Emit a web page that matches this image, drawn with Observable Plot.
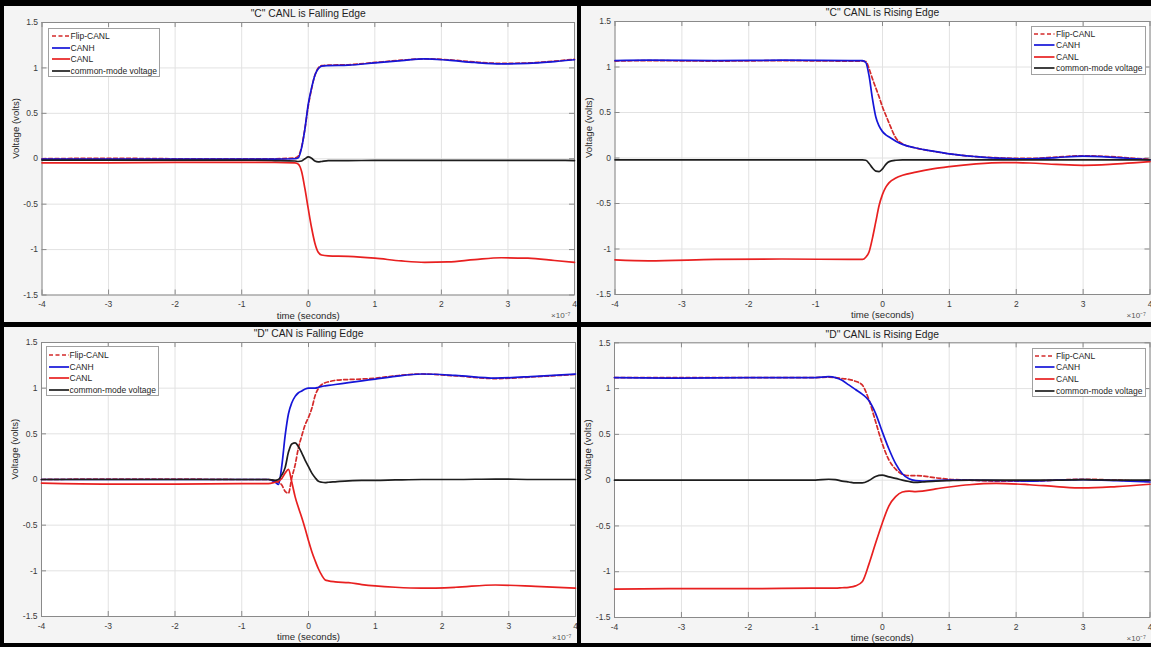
<!DOCTYPE html>
<html><head><meta charset="utf-8">
<script src="https://cdn.jsdelivr.net/npm/d3@7"></script>
<script src="https://cdn.jsdelivr.net/npm/@observablehq/plot@0.6"></script>
<style>
html,body{margin:0;padding:0;background:#000;width:1151px;height:647px;overflow:hidden;}
.quad{position:absolute;background:#f4f4f4;overflow:hidden;}
.quad svg{display:block;}
.legend{position:absolute;background:#fff;border:1px solid #a0a0a0;box-sizing:border-box;}
.lrow{position:absolute;font:8.5px "Liberation Sans",Arial,Helvetica,sans-serif;color:#1e1e1e;white-space:nowrap;line-height:10px;}
.lsample{position:absolute;}
</style></head><body>
<script>
// ---------- shared axes ----------
const xTicks = [-4, -3, -2, -1, 0, 1, 2, 3, 4];
const yTicks = [-1.5, -1, -0.5, 0, 0.5, 1, 1.5];
const seriesNames = ["Flip-CANL", "CANH", "CANL", "common-mode voltage"];
const titles = ['"C" CANL is Falling Edge', '"C" CANL is Rising Edge', '"D" CAN is Falling Edge', '"D" CANL is Rising Edge'];
const xLabel = "time (seconds)";
const yLabel = "Voltage (volts)";
const xExponent = "×10⁻⁷";

// ---------- panel C falling (time in units of 1e-7 s) ----------
const tC1 = [-4, -3, -2, -1, -0.5, -0.2, -0.15, -0.1, -0.05, 0, 0.05, 0.1, 0.15, 0.2, 0.3, 0.6, 1.0, 1.4, 1.75, 2.1, 2.5, 2.9, 3.3, 3.7, 4.0];
const flipC1 = [0.0, 0.005, 0.0, 0.0, 0.0, 0.01, 0.03, 0.13, 0.33, 0.58, 0.77, 0.92, 1.0, 1.025, 1.03, 1.035, 1.06, 1.085, 1.10, 1.09, 1.065, 1.05, 1.055, 1.075, 1.095];
const canhC1 = [-0.005, -0.005, -0.005, -0.005, -0.005, 0.0, 0.01, 0.12, 0.33, 0.6, 0.78, 0.92, 0.99, 1.02, 1.025, 1.03, 1.055, 1.08, 1.10, 1.085, 1.06, 1.045, 1.05, 1.07, 1.09];
const canlC1 = [-0.045, -0.045, -0.04, -0.04, -0.04, -0.045, -0.06, -0.14, -0.33, -0.55, -0.76, -0.93, -1.03, -1.06, -1.07, -1.075, -1.095, -1.125, -1.14, -1.135, -1.11, -1.09, -1.095, -1.12, -1.14];
const cmC1 = [-0.015, -0.015, -0.015, -0.015, -0.02, -0.025, -0.03, -0.025, 0.0, 0.02, 0.005, -0.025, -0.035, -0.03, -0.02, -0.02, -0.018, -0.018, -0.017, -0.017, -0.017, -0.017, -0.018, -0.018, -0.02];

// ---------- panel C rising ----------
const tC2 = [-4, -3.5, -2.5, -1.5, -0.5, -0.3, -0.25, -0.2, -0.15, -0.1, -0.05, 0, 0.05, 0.1, 0.2, 0.3, 0.5, 0.75, 1.0, 1.4, 1.8, 2.2, 2.6, 3.0, 3.4, 3.8, 4.0];
const flipC2 = [1.065, 1.07, 1.065, 1.07, 1.065, 1.065, 1.06, 0.98, 0.87, 0.77, 0.67, 0.56, 0.47, 0.38, 0.22, 0.155, 0.11, 0.075, 0.045, 0.015, 0.0, -0.005, 0.01, 0.025, 0.015, -0.005, -0.015];
const canhC2 = [1.07, 1.075, 1.07, 1.075, 1.07, 1.07, 1.05, 0.90, 0.65, 0.45, 0.35, 0.29, 0.255, 0.23, 0.185, 0.15, 0.11, 0.075, 0.045, 0.015, -0.005, -0.01, 0.005, 0.02, 0.01, -0.01, -0.02];
const canlC2 = [-1.12, -1.13, -1.115, -1.11, -1.115, -1.115, -1.09, -1.03, -0.88, -0.70, -0.52, -0.40, -0.32, -0.27, -0.22, -0.19, -0.155, -0.12, -0.095, -0.065, -0.05, -0.055, -0.07, -0.08, -0.07, -0.05, -0.04];
const cmC2 = [-0.02, -0.02, -0.02, -0.02, -0.02, -0.02, -0.025, -0.06, -0.11, -0.145, -0.15, -0.12, -0.07, -0.04, -0.025, -0.02, -0.02, -0.02, -0.02, -0.02, -0.02, -0.02, -0.02, -0.02, -0.02, -0.02, -0.02];

// ---------- panel D falling ----------
const tD1 = [-4, -3, -2, -1, -0.6, -0.5, -0.45, -0.4, -0.35, -0.3, -0.25, -0.2, -0.15, -0.1, -0.05, 0, 0.05, 0.1, 0.15, 0.2, 0.25, 0.3, 0.4, 0.6, 0.8, 1.0, 1.3, 1.7, 2.2, 2.8, 3.4, 4.0];
const flipD1 = [0.0, 0.005, 0.005, 0.0, 0.0, -0.02, -0.03, -0.06, -0.13, -0.15, 0.02, 0.16, 0.35, 0.48, 0.60, 0.68, 0.78, 0.92, 1.0, 1.04, 1.06, 1.07, 1.085, 1.095, 1.10, 1.11, 1.135, 1.155, 1.135, 1.105, 1.125, 1.15];
const canhD1 = [0.0, 0.0, 0.0, 0.0, 0.0, -0.03, -0.055, 0.15, 0.48, 0.72, 0.84, 0.91, 0.95, 0.97, 0.99, 1.0, 1.0, 1.0, 1.01, 1.02, 1.025, 1.03, 1.04, 1.06, 1.08, 1.10, 1.13, 1.155, 1.14, 1.11, 1.13, 1.155];
const canlD1 = [-0.04, -0.05, -0.05, -0.045, -0.045, -0.03, -0.02, 0.01, 0.07, 0.11, -0.03, -0.19, -0.31, -0.42, -0.54, -0.67, -0.79, -0.89, -0.98, -1.05, -1.10, -1.11, -1.12, -1.13, -1.15, -1.165, -1.18, -1.19, -1.18, -1.155, -1.17, -1.19];
const cmD1 = [0.0, 0.0, 0.0, 0.0, 0.0, -0.01, 0.0, 0.05, 0.13, 0.30, 0.39, 0.40, 0.36, 0.29, 0.21, 0.14, 0.07, 0.02, -0.02, -0.03, -0.035, -0.03, -0.025, -0.015, -0.01, -0.01, -0.005, 0.0, 0.0, 0.005, 0.0, 0.0];

// ---------- panel D rising ----------
const tD2 = [-4, -3, -2, -1, -0.8, -0.7, -0.6, -0.5, -0.4, -0.3, -0.2, -0.1, 0, 0.1, 0.2, 0.3, 0.4, 0.5, 0.6, 0.8, 1.0, 1.3, 1.7, 2.2, 2.6, 3.0, 3.5, 4.0];
const flipD2 = [1.12, 1.12, 1.12, 1.12, 1.125, 1.12, 1.11, 1.10, 1.08, 1.04, 0.88, 0.64, 0.40, 0.22, 0.12, 0.065, 0.05, 0.05, 0.045, 0.025, 0.01, 0.0, -0.01, -0.01, 0.0, 0.01, 0.0, -0.015];
const canhD2 = [1.12, 1.115, 1.12, 1.12, 1.13, 1.12, 1.09, 1.04, 0.99, 0.94, 0.87, 0.73, 0.53, 0.34, 0.18, 0.07, 0.015, -0.005, -0.01, -0.005, 0.0, 0.0, -0.005, -0.01, 0.0, 0.005, -0.005, -0.02];
const canlD2 = [-1.19, -1.185, -1.185, -1.18, -1.18, -1.18, -1.175, -1.17, -1.155, -1.11, -0.92, -0.69, -0.47, -0.28, -0.18, -0.13, -0.12, -0.125, -0.12, -0.095, -0.075, -0.05, -0.035, -0.05, -0.07, -0.085, -0.07, -0.045];
const cmD2 = [0.0, 0.0, 0.0, 0.0, 0.01, 0.005, -0.01, -0.02, -0.03, -0.03, -0.005, 0.04, 0.055, 0.035, 0.02, 0.0, -0.015, -0.025, -0.02, -0.01, -0.005, 0.0, 0.0, 0.0, 0.0, 0.005, 0.0, 0.0];

// ---------- styles ----------
const FONT = '"Liberation Sans", Arial, Helvetica, sans-serif';
const AX = "#8a8a8a";
const GRID = "#e2e2e2";
const styles = [
  {stroke: "#d42a2a", strokeWidth: 1.7, strokeDasharray: "4,2.5"},
  {stroke: "#1515d8", strokeWidth: 1.7},
  {stroke: "#e82020", strokeWidth: 1.7},
  {stroke: "#1e1e1e", strokeWidth: 1.7}
];

const panels = [
  {quad: [4, 6, 573, 316], m: [37.5, 3, 16, 27.5], titleDy: -9, t: tC1, s: [flipC1, canhC1, canlC1, cmC1],
   legend: {box: [48, 28, 112, 49], rows: [36, 47.5, 59, 70.5], line: [52, 70], text: 70.5}},
  {quad: [581, 6, 570, 316], m: [33.5, 1.5, 15, 28], titleDy: -9, t: tC2, s: [flipC2, canhC2, canlC2, cmC2],
   legend: {box: [1031, 26, 115, 49], rows: [33.5, 45, 56.5, 68], line: [1034, 1054.5], text: 1056}},
  {quad: [4, 327, 573, 316], m: [37, 2, 15, 27], titleDy: -9, t: tD1, s: [flipD1, canhD1, canlD1, cmD1],
   legend: {box: [46, 346, 113, 50], rows: [355, 366.5, 378, 389.5], line: [49, 69], text: 69.5}},
  {quad: [581, 327, 570, 316], m: [33, 1.5, 15.3, 26], titleDy: -8, t: tD2, s: [flipD2, canhD2, canlD2, cmD2],
   legend: {box: [1032, 348, 114, 49], rows: [355.5, 367, 379, 390.5], line: [1035, 1054.5], text: 1056}}
];

panels.forEach((p, k) => {
  const q = document.createElement("div");
  q.className = "quad";
  Object.assign(q.style, {left: p.quad[0] + "px", top: p.quad[1] + "px", width: p.quad[2] + "px", height: p.quad[3] + "px"});
  const lines = p.s.map((vals, j) => Plot.line(vals, {x: p.t, y: vals, curve: "monotone-x", ...styles[j]}));
  const chart = Plot.plot({
    width: p.quad[2], height: p.quad[3],
    marginLeft: p.m[0], marginRight: p.m[1], marginTop: p.m[2], marginBottom: p.m[3],
    style: {background: "transparent", fontFamily: FONT, color: "#3a3a3a", overflow: "visible"},
    x: {domain: [-4, 4]},
    y: {domain: [-1.5, 1.5]},
    marks: [
      Plot.frame({fill: "white", stroke: null}),
      Plot.gridX(xTicks, {stroke: GRID, strokeOpacity: 1}),
      Plot.gridY(yTicks, {stroke: GRID, strokeOpacity: 1}),
      Plot.ruleX(xTicks, {x: d => d, y1: -1.5, y2: -1.445, stroke: AX}),
      Plot.ruleX(xTicks, {x: d => d, y1: 1.5, y2: 1.445, stroke: AX}),
      Plot.ruleY(yTicks, {y: d => d, x1: -4, x2: -3.925, stroke: AX}),
      Plot.ruleY(yTicks, {y: d => d, x1: 4, x2: 3.925, stroke: AX}),
      Plot.frame({stroke: AX, strokeWidth: 1}),
      Plot.axisX(xTicks, {tickSize: 0, tickPadding: 6, tickFormat: d => String(d), fontSize: 8.5, label: null}),
      Plot.axisY(yTicks, {tickSize: 0, tickPadding: 4, tickFormat: d => String(d), fontSize: 8.5, label: null}),
      ...lines,
      Plot.text([titles[k]], {frameAnchor: "top", dy: p.titleDy, fontSize: 10.3, fill: "#1e1e1e", lineAnchor: "middle"}),
      Plot.text([xLabel], {frameAnchor: "bottom", dy: 20.5, fontSize: 9.6, fill: "#2a2a2a", lineAnchor: "middle"}),
      Plot.text([xExponent], {frameAnchor: "bottom-right", dy: 20.5, dx: -4, fontSize: 8, fill: "#555", textAnchor: "end", lineAnchor: "middle"}),
      Plot.text([yLabel], {frameAnchor: "left", dx: -26.5, rotate: -90, fontSize: 9.6, fill: "#2a2a2a", lineAnchor: "middle"})
    ]
  });
  q.appendChild(chart);
  document.body.appendChild(q);

  // legend (absolute image coordinates)
  const L = p.legend;
  const lg = document.createElement("div");
  lg.className = "legend";
  Object.assign(lg.style, {left: L.box[0] + "px", top: L.box[1] + "px", width: L.box[2] + "px", height: L.box[3] + "px"});
  document.body.appendChild(lg);
  seriesNames.forEach((name, j) => {
    const w = L.line[1] - L.line[0];
    const svg = document.createElementNS("http://www.w3.org/2000/svg", "svg");
    svg.setAttribute("width", w); svg.setAttribute("height", 4);
    svg.setAttribute("class", "lsample");
    Object.assign(svg.style, {position: "absolute", left: L.line[0] + "px", top: (L.rows[j] - 2) + "px"});
    const ln = document.createElementNS("http://www.w3.org/2000/svg", "line");
    ln.setAttribute("x1", 0); ln.setAttribute("x2", w); ln.setAttribute("y1", 2); ln.setAttribute("y2", 2);
    ln.setAttribute("stroke", styles[j].stroke); ln.setAttribute("stroke-width", styles[j].strokeWidth);
    if (styles[j].strokeDasharray) ln.setAttribute("stroke-dasharray", styles[j].strokeDasharray);
    svg.appendChild(ln);
    document.body.appendChild(svg);
    const tx = document.createElement("div");
    tx.className = "lrow";
    tx.textContent = name;
    Object.assign(tx.style, {left: L.text + "px", top: (L.rows[j] - 5) + "px"});
    document.body.appendChild(tx);
  });
});
</script>
</body></html>
